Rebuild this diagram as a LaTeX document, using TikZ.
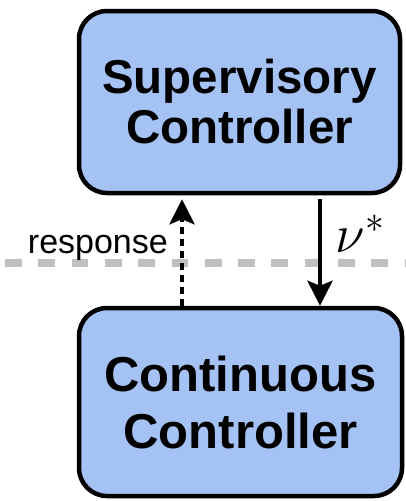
\documentclass[tikz,border=0pt]{standalone}
\usepackage{fontspec}
\setmainfont{Liberation Sans}
\usetikzlibrary{arrows.meta}
\definecolor{boxblue}{HTML}{A4C2F4}
\definecolor{sepgray}{HTML}{C0C0C0}
\tikzset{
  ctrlbox/.style={draw=black, line width=4.5pt, fill=boxblue, rounded corners=28pt,
    align=center, inner sep=0pt, font=\bfseries},
  flowarrow/.style={line width=4pt, -{Stealth[length=25pt,width=25pt,inset=5pt]}},
  sepline/.style={draw=sepgray, line width=7.5pt, dash pattern=on 16.7pt off 16.6pt}
}
\begin{document}
\begin{tikzpicture}[x=1pt, y=-1pt]
  \useasboundingbox (0,0) rectangle (406,501);

  % level separator
  \coordinate (sepL) at (5,263);
  \coordinate (sepR) at (406,263);
  \draw[sepline] (sepL) -- (sepR);

  % controllers
  \node[ctrlbox, minimum width=321pt, minimum height=182pt,
        font=\bfseries\fontsize{47.5}{50}\selectfont]
    (sup) at (239.5,102) {Supervisory\\Controller};
  \node[ctrlbox, minimum width=323pt, minimum height=188pt,
        font=\bfseries\fontsize{49}{57}\selectfont]
    (cont) at (240.5,402) {Continuous\\Controller};

  % command going down, response coming up
  \draw[flowarrow, shorten <=4pt] (sup.south -| 320,0) -- (cont.north -| 320,0);
  \node[anchor=base west, inner sep=0pt, scale=2.6, font=\fontsize{20}{24}\selectfont]
    (nu) at (335,252) {$\nu^*$};
  \draw[flowarrow, line width=4.5pt, dash pattern=on 7pt off 5pt, shorten >=4pt]
    (cont.north -| 182,0) -- (sup.south -| 182,0);
  \node[anchor=base east, inner sep=0pt, font=\fontsize{34}{36}\selectfont]
    (resp) at (168,253) {response};
\end{tikzpicture}
\end{document}
